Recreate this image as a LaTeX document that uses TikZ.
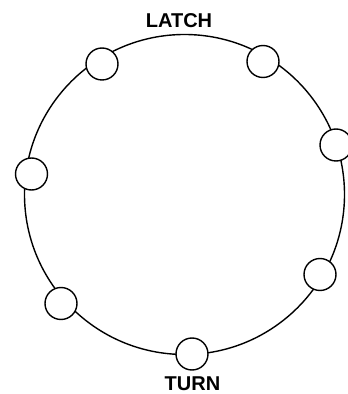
\documentclass[tikz,border=0pt]{standalone}
\usepackage{fontspec}
\setmainfont{Liberation Sans}
\usetikzlibrary{positioning}
\tikzset{
  rim/.style={circle, draw, line width=1.4pt, minimum size=320pt, inner sep=0pt},
  peg/.style={circle, draw, fill=white, line width=1.4pt, minimum size=32pt, inner sep=0pt},
  dialtext/.style={font=\bfseries\fontsize{20}{24}\selectfont, inner sep=0pt},
}

\begin{document}
\begin{tikzpicture}[x=1pt, y=1pt]
\clip (0,0) rectangle (348,394);
\node[rim] (dial) at (184.5,199.5) {};
\node[peg] (p1) at (102,330) {};
\node[peg] (p2) at (263,332.5) {};
\node[peg] (p3) at (336,249) {};
\node[peg] (p4) at (320,119.5) {};
\node[peg] (p5) at (192,40) {};
\node[peg] (p6) at (61,90.5) {};
\node[peg] (p7) at (31.5,220) {};
\node[dialtext] (latch) at (179,373) {LATCH};
\node[dialtext] (turn) at (192.5,10.5) {TURN};
\end{tikzpicture}
\end{document}
